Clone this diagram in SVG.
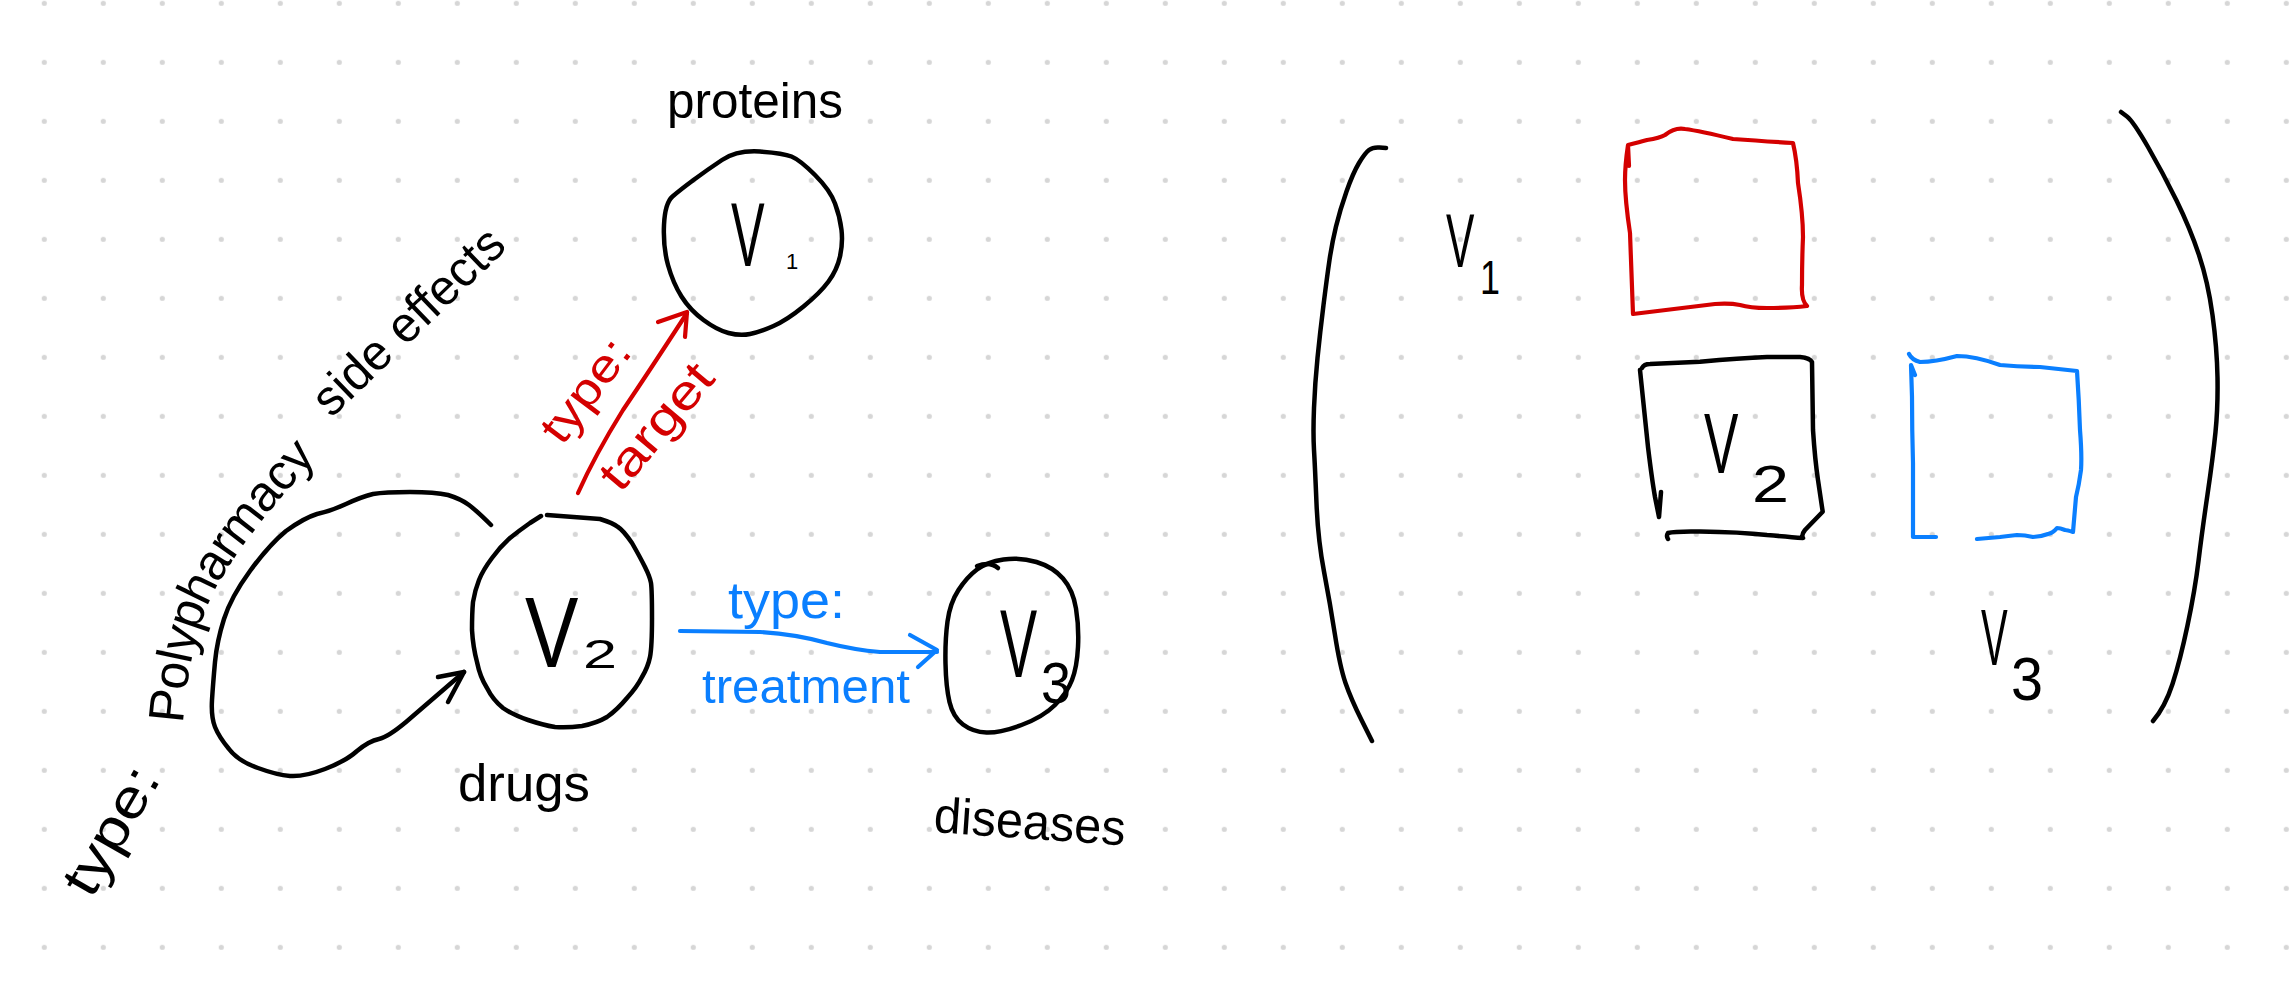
<svg xmlns="http://www.w3.org/2000/svg" width="2294" height="1000" viewBox="0 0 2294 1000">
<style>
.ink{fill:none;stroke:#000;stroke-width:4.5;stroke-linecap:round;stroke-linejoin:round}
.red{fill:none;stroke:#d40000;stroke-width:4.2;stroke-linecap:round;stroke-linejoin:round}
.blue{fill:none;stroke:#0a7fff;stroke-width:4.2;stroke-linecap:round;stroke-linejoin:round}
text{font-family:"Liberation Sans",Arial,sans-serif}
.t{fill:#000}
.tr{fill:#d40000}
.tb{fill:#0a7fff}
</style>
<defs>
<pattern id="dots" x="14.8" y="-26.2" width="59" height="59" patternUnits="userSpaceOnUse">
<circle cx="29.5" cy="29.5" r="2.6" fill="#d6d6d6"/>
</pattern>
<path id="polyPath" d="M 166,722 C 170,670 180,618 202,578 C 226,535 262,492 308,442"/>
</defs>
<rect width="2294" height="1000" fill="#fff"/>
<rect width="2294" height="1000" fill="url(#dots)"/>

<g id="connectors">
<g id="edge-self-loop">
<path class="ink" d="M 491,525 Q 477,511 469,505 Q 461,499 448,495 Q 435,492 410,492 Q 385,492 373,494 Q 361,497 346,504 Q 331,511 317,514 Q 304,518 286,531 Q 269,545 250,571 Q 231,597 224,619 Q 217,641 215,662 Q 213,684 212,700 Q 211,717 215,727 Q 219,737 229,749 Q 238,761 258,768 Q 277,775 290,776 Q 304,777 325,769 Q 346,761 357,751 Q 369,741 379,739 Q 388,737 406,722 L 464,672"/>
<path class="ink" d="M 438,677 L 464,672 L 448,702"/>
</g>
<g id="edge-target">
<path class="red" d="M 578,493 Q 595,455 623,410 Q 650,370 687,313"/>
<path class="red" d="M 658,322 L 687,312 L 685,337"/>
</g>
<g id="edge-treatment">
<path class="blue" d="M 680,631 L 760,632 Q 795,634 827,643 Q 855,650 880,652 L 937,652"/>
<path class="blue" d="M 910,635 L 937,650 L 918,667"/>
</g>
</g>

<g id="edge-labels">
<text class="t" font-size="54" text-anchor="middle" dominant-baseline="central" textLength="140" lengthAdjust="spacingAndGlyphs" transform="translate(110 830) rotate(-60)">type:</text>
<text class="t" font-size="50" dominant-baseline="central"><textPath href="#polyPath">Polypharmacy</textPath></text>
<text class="t" font-size="50" text-anchor="middle" dominant-baseline="central" textLength="246" lengthAdjust="spacingAndGlyphs" transform="translate(408 321) rotate(-44)">side effects</text>
<text class="tr" font-size="46" text-anchor="middle" dominant-baseline="central" textLength="118" lengthAdjust="spacingAndGlyphs" transform="translate(585 390) rotate(-53)">type:</text>
<text class="tr" font-size="48" text-anchor="middle" dominant-baseline="central" textLength="150" lengthAdjust="spacingAndGlyphs" transform="translate(656 426) rotate(-50)">target</text>
<text class="tb" font-size="52" x="728" y="618" textLength="117" lengthAdjust="spacingAndGlyphs">type:</text>
<text class="tb" font-size="48" x="702" y="703" textLength="208" lengthAdjust="spacingAndGlyphs">treatment</text>
</g>

<g id="node-v1">
<path class="ink" d="M 760,151.5 Q 783,153 791.5,156.5 Q 800,160 815,175 Q 830,190 835,203.5 Q 840,217 841.5,230 Q 843,243 840,256.5 Q 837,270 828.5,281.5 Q 820,293 803.5,306.5 Q 787,320 773.5,326 Q 760,332 750,334 Q 740,336 728.5,333 Q 717,330 703.5,320 Q 690,310 681.5,296.5 Q 673,283 668,265 Q 663,247 664,225 Q 665,203 672.5,196.5 Q 680,190 693.5,180 Q 707,170 722,160 Q 737,150 760,151.5 Z"/>
<text class="t" font-size="90" transform="translate(731 266) scale(0.56 1)">V</text>
<text class="t" x="786" y="269" font-size="22">1</text>
<text class="t" x="667" y="118" font-size="50" textLength="176" lengthAdjust="spacingAndGlyphs">proteins</text>
</g>

<g id="node-v2">
<path class="ink" d="M 547,515 L 600,519 Q 613,523 618,527 Q 623,530 632,543 Q 640,557 645,567 Q 650,577 651,583 Q 652,590 652,618 Q 652,647 650,657 Q 648,667 642,677 Q 637,687 627,698 Q 617,710 607,717 Q 597,723 582,726 Q 567,728 555,727 Q 543,725 528,720 Q 513,715 503,708 Q 493,700 487,688 Q 480,677 477,662 Q 473,647 472,630 Q 472,613 473,602 Q 475,590 479,580 Q 483,570 492,558 Q 500,547 510,538 Q 520,530 530,523 L 541,516"/>
<text class="t" font-size="100" transform="translate(525 667) scale(0.8 1)">V</text>
<text class="t" x="583" y="668" font-size="40" textLength="34" lengthAdjust="spacingAndGlyphs">2</text>
<text class="t" x="458" y="801" font-size="52" textLength="132" lengthAdjust="spacingAndGlyphs">drugs</text>
</g>

<g id="node-v3">
<path class="ink" d="M 1036.5,562 Q 1053,567 1063,578.5 Q 1073,590 1076,608.5 Q 1079,627 1078,647 Q 1077,667 1072,680 Q 1067,693 1055,705 Q 1043,717 1021.5,725 Q 1000,733 986.5,732.5 Q 973,732 963,724.5 Q 953,717 949.5,702 Q 946,687 945.5,663.5 Q 945,640 947.5,621.5 Q 950,603 958.5,590 Q 967,577 977,569.5 Q 987,562 1003.5,559.5 Q 1020,557 1036.5,562 Z"/>
<path class="ink" d="M 977,566 Q 990,561 998,568"/>
<text class="t" font-size="96" transform="translate(1000 677) scale(0.58 1)">V</text>
<text class="t" x="1041" y="703" font-size="58" textLength="30" lengthAdjust="spacingAndGlyphs">3</text>
<text class="t" x="933" y="832" font-size="50" textLength="192" lengthAdjust="spacingAndGlyphs" transform="rotate(4 933 832)">diseases</text>
</g>

<g id="matrix">
<path class="ink" d="M 1386,148 L 1379.5,147.5 Q 1373,147 1369,150 Q 1365,153 1359,163 Q 1353,173 1346.5,191.5 Q 1340,210 1336,226.5 Q 1332,243 1329.5,260 Q 1327,277 1323.5,305 Q 1320,333 1317.5,358 Q 1315,383 1314,408 Q 1313,433 1314,450 Q 1315,467 1316.5,503.5 Q 1318,540 1324,571.5 Q 1330,603 1335,635 Q 1340,667 1345.5,683 Q 1351,699 1361.5,720 L 1372,741"/>
<path class="ink" d="M 2121,112 L 2127,116.5 Q 2133,121 2148,147 Q 2163,173 2176.5,200.5 Q 2190,228 2199,255 Q 2208,282 2212.5,315 Q 2217,348 2217.5,377.5 Q 2218,407 2215.5,432 Q 2213,457 2207.5,494.5 Q 2202,532 2198.5,561 Q 2195,590 2187.5,625.5 Q 2180,661 2172.5,684 Q 2165,707 2153,721"/>
<g id="block-v1v1">
<path class="red" d="M 1629,166 L 1628,145 Q 1640,142 1647,140 Q 1660,138 1665,135 Q 1675,127 1685,129 Q 1700,131 1733,139 Q 1760,141 1793,143 Q 1797,160 1798,183 Q 1803,215 1803,237 Q 1802,260 1802,285 Q 1801,300 1807,306 Q 1790,308 1767,308 Q 1750,308 1740,305 Q 1730,303 1715,304 Q 1690,307 1633,314 Q 1632,290 1630,233 Q 1625,200 1625,180 Q 1625,165 1628,145"/>
</g>
<g id="block-v2v2">
<path class="ink" d="M 1642,368 Q 1644,364 1650,364 L 1700,361.7 Q 1740,358 1767,357 L 1800,357 Q 1810,358 1812,362 L 1813,430 Q 1815,460 1818,480 L 1822.7,511.7 L 1805,530 Q 1801,535 1803,538 Q 1790,537 1767,535 Q 1740,532 1700,531.5 Q 1675,531 1668,533 Q 1666,536 1668,539"/>
<path class="ink" d="M 1640,370 L 1648,447 Q 1652,480 1655,497 L 1659,517 L 1661,492"/>
</g>
<g id="block-v2v3">
<path class="blue" d="M 1909,354 Q 1912,360 1920,362 Q 1935,362 1957,356 Q 1975,356 2000,365 Q 2020,367 2040,367 L 2077,371 Q 2079,400 2080,430 Q 2082,455 2081,470 Q 2079,485 2076,497 L 2073,532 Q 2067,530 2065,530 Q 2060,528 2057,528 Q 2053,533 2048,534 Q 2040,537 2033,537 Q 2025,535 2017,535 Q 2008,536 2000,537 L 1977,539"/>
<path class="blue" d="M 1936,537 L 1913,537 L 1913,463 Q 1912,430 1912,397 L 1911,365 L 1915,375"/>
</g>
<text class="t" font-size="76" transform="translate(1446 267) scale(0.56 1)">V</text>
<text class="t" x="1480" y="294" font-size="48" textLength="20" lengthAdjust="spacingAndGlyphs">1</text>
<text class="t" font-size="86" transform="translate(1704 473) scale(0.6 1)">V</text>
<text class="t" x="1752" y="502" font-size="52" textLength="37" lengthAdjust="spacingAndGlyphs">2</text>
<text class="t" font-size="80" transform="translate(1981 665) scale(0.5 1)">V</text>
<text class="t" x="2011" y="700" font-size="62" textLength="32" lengthAdjust="spacingAndGlyphs">3</text>
</g>
</svg>
